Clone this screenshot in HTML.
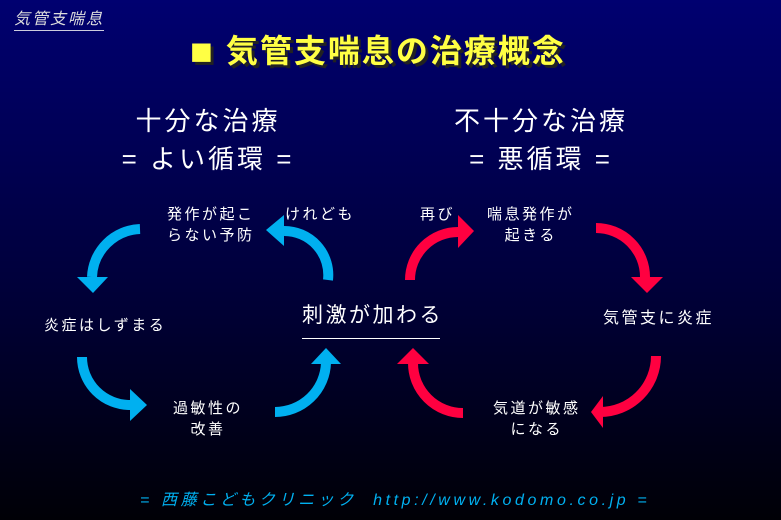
<!DOCTYPE html>
<html><head><meta charset="utf-8"><style>
body{margin:0;width:781px;height:520px;overflow:hidden;background:linear-gradient(#000070,#00003a 55%,#000006);font-family:"Liberation Sans","Noto Sans CJK JP",sans-serif;color:#fff;position:relative}
.t{position:absolute;white-space:nowrap}
.l{font-size:15px;letter-spacing:2.5px;line-height:21px}
</style></head><body>
<div class="t" style="left:14px;top:9px;font-size:16px;font-style:italic;color:#ddd;border-bottom:1px solid #ccd;line-height:21px;letter-spacing:2px">気管支喘息</div>
<div class="t" style="left:190px;top:26px;font-size:32px;font-weight:bold;color:#ffff44;text-shadow:3px 3px 0 #222;letter-spacing:2px"><span style="font-size:38px;position:relative;top:2px">■</span> 気管支喘息の治療概念</div>
<div class="t" style="left:90px;width:236px;top:102px;text-align:center;font-size:26px;line-height:38px;letter-spacing:3px">十分な治療<br>= よい循環 =</div>
<div class="t" style="left:423px;width:236px;top:102px;text-align:center;font-size:26px;line-height:38px;letter-spacing:3px">不十分な治療<br>= 悪循環 =</div>
<div class="t l" style="left:167px;top:204px">発作が起こ<br>らない予防</div>
<div class="t l" style="left:285px;top:204px">けれども</div>
<div class="t l" style="left:420px;top:204px">再び</div>
<div class="t l" style="left:487px;top:204px;text-align:center">喘息発作が<br>起きる</div>
<div class="t l" style="left:44px;top:315px">炎症はしずまる</div>
<div class="t l" style="left:603px;top:308px;font-size:16px">気管支に炎症</div>
<div class="t" style="left:302px;top:299px;font-size:21px;letter-spacing:2.5px;border-bottom:1px solid #fff;padding-bottom:9px;width:138px">刺激が加わる</div>
<div class="t l" style="left:173px;top:398px;text-align:center">過敏性の<br>改善</div>
<div class="t l" style="left:493px;top:398px;text-align:center">気道が敏感<br>になる</div>
<div class="t" style="left:140px;top:486px;font-size:16px;font-style:italic;color:#00b0f0;letter-spacing:3.6px">= 西藤こどもクリニック&nbsp;&nbsp;http://www.kodomo.co.jp =</div>
<svg width="781" height="520" style="position:absolute;left:0;top:0" fill="none" stroke-width="10">
<g stroke="#00b0f0">
<path d="M140 229 A50 50 0 0 0 92 277"/>
<path d="M328 280 A44 44 0 0 0 284 231"/>
<path d="M82 357 A48 48 0 0 0 130 405"/>
<path d="M275 412 A51 51 0 0 0 326 363"/>
</g>
<g fill="#00b0f0">
<polygon points="77,277 108,277 93,293"/>
<polygon points="284,215 284,246 266,230"/>
<polygon points="130,389 130,421 147,405"/>
<polygon points="311,364 341,364 326,348"/>
</g>
<g stroke="#ff0040">
<path d="M410 280 A48 48 0 0 1 458 232"/>
<path d="M596 228 A49 49 0 0 1 645 277"/>
<path d="M656 356 A56 56 0 0 1 600 412"/>
<path d="M463 413 A50 50 0 0 1 413 363"/>
</g>
<g fill="#ff0040">
<polygon points="458,215 458,248 474,231"/>
<polygon points="631,277 663,277 647,293"/>
<polygon points="603,396 603,428 591,412"/>
<polygon points="397,364 429,364 413,348"/>
</g>
</svg>
</body></html>
